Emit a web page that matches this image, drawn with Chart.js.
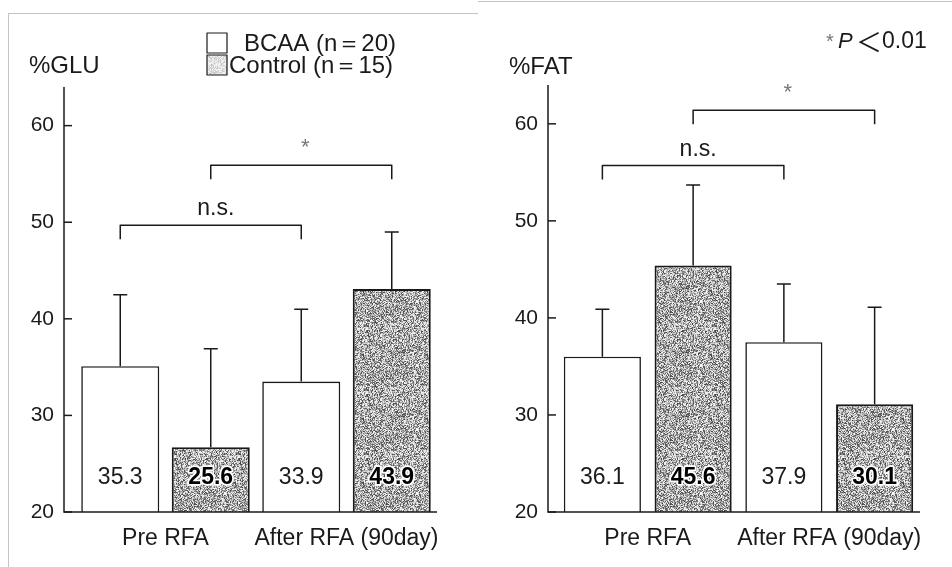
<!DOCTYPE html>
<html>
<head>
<meta charset="utf-8">
<script src="https://cdn.jsdelivr.net/npm/chart.js@4"></script>
<style>
body { margin: 0; background: #fff; }
#wrap { position: relative; width: 952px; height: 567px; overflow: hidden; }
canvas { position: absolute; top: 0; }
#c1 { left: 0; }
#c2 { left: 476px; }
.frame { position: absolute; background: #c4c4c4; }
</style>
</head>
<body>
<div id="wrap">
<div class="frame" style="left:8px; top:13px; width:1px; height:560px;"></div>
<div class="frame" style="left:8px; top:13px; width:470px; height:1px;"></div>
<div class="frame" style="left:478px; top:1px; width:474px; height:1px;"></div>
<canvas id="c1" width="476" height="567"></canvas>
<canvas id="c2" width="476" height="567"></canvas>
</div>
<script>
const categories = ["Pre RFA", "After RFA (90day)"];
const seriesNames = ["BCAA (n＝20)", "Control (n＝15)"];
const yTicks = [20, 30, 40, 50, 60];

// %GLU panel
const gluBcaa = [35.1, 33.5];
const gluControl = [26.7, 43.1];
const gluBcaaTop = [42.5, 41.0];
const gluControlTop = [36.9, 49.0];
const gluBcaaText = ["35.3", "33.9"];
const gluControlText = ["25.6", "43.9"];

// %FAT panel
const fatBcaa = [36.0, 37.5];
const fatControl = [45.4, 31.1];
const fatBcaaTop = [40.9, 43.5];
const fatControlTop = [53.7, 41.1];
const fatBcaaText = ["36.1", "37.9"];
const fatControlText = ["45.6", "30.1"];

// brackets: [series, from category, to category, level, label]
const gluBrackets = [[0, 0, 1, 49.7, "n.s."], [1, 0, 1, 55.9, "*"]];
const fatBrackets = [[0, 0, 1, 55.7, "n.s."], [1, 0, 1, 61.4, "*"]];

const FONT = "'Liberation Sans', Arial, sans-serif";
const INK = "#1a1a1a";

// grey stipple texture for the control bars
function stipple(depth, seed) {
    const c = document.createElement("canvas");
    c.width = 64; c.height = 64;
    const g = c.getContext("2d");
    const img = g.createImageData(64, 64);
    let s = seed;
    for (let i = 0; i < 64 * 64; i++) {
        s = (s * 1103515245 + 12345) & 0x7fffffff;
        const r = ((s >> 8) % 1000) / 1000;
        const v = Math.round(250 - depth * Math.pow(r, 1.3));
        img.data[i * 4] = img.data[i * 4 + 1] = img.data[i * 4 + 2] = v;
        img.data[i * 4 + 3] = 255;
    }
    g.putImageData(img, 0, 0);
    return g.createPattern(c, "repeat");
}
const darkFill = stipple(185, 12345);
const lightFill = stipple(60, 777);

const decor = {
    id: "decor",
    afterDraw(chart, args, o) {
        const ctx = chart.ctx;
        const y = chart.scales.y;
        const area = chart.chartArea;
        const ax = area.left - o.gap;
        ctx.save();
        ctx.strokeStyle = INK;
        ctx.fillStyle = INK;

        // axis lines and inner tick marks
        ctx.lineWidth = 1.5;
        ctx.beginPath();
        ctx.moveTo(ax, area.top);
        ctx.lineTo(ax, area.bottom);
        ctx.lineTo(area.right, area.bottom);
        ctx.stroke();
        yTicks.forEach(v => {
            const py = y.getPixelForValue(v);
            ctx.beginPath();
            ctx.moveTo(ax, py);
            ctx.lineTo(ax + 8, py);
            ctx.stroke();
        });

        // error bars and value labels
        chart.data.datasets.forEach((ds, d) => {
            chart.getDatasetMeta(d).data.forEach((bar, i) => {
                const top = y.getPixelForValue(o.tops[d][i]);
                ctx.lineWidth = 1.5;
                ctx.strokeStyle = INK;
                ctx.beginPath();
                ctx.moveTo(bar.x, bar.y);
                ctx.lineTo(bar.x, top);
                ctx.moveTo(bar.x - 7, top);
                ctx.lineTo(bar.x + 7, top);
                ctx.stroke();

                ctx.textAlign = "center";
                ctx.textBaseline = "middle";
                const ty = area.bottom - 34;
                if (d === 1) {
                    ctx.font = "bold 23px " + FONT;
                    ctx.lineWidth = 3.5;
                    ctx.strokeStyle = "#fff";
                    ctx.lineJoin = "round";
                    ctx.strokeText(o.texts[d][i], bar.x, ty);
                    ctx.fillStyle = "#000";
                    ctx.fillText(o.texts[d][i], bar.x, ty);
                } else {
                    ctx.font = "23px " + FONT;
                    ctx.fillStyle = INK;
                    ctx.fillText(o.texts[d][i], bar.x, ty);
                }
            });
        });

        // significance brackets
        ctx.strokeStyle = INK;
        ctx.lineWidth = 1.5;
        o.brackets.forEach(b => {
            const meta = chart.getDatasetMeta(b[0]);
            const x1 = meta.data[b[1]].x;
            const x2 = meta.data[b[2]].x;
            const py = y.getPixelForValue(b[3]);
            ctx.beginPath();
            ctx.moveTo(x1, py + 14);
            ctx.lineTo(x1, py);
            ctx.lineTo(x2, py);
            ctx.lineTo(x2, py + 14);
            ctx.stroke();
            ctx.textAlign = "center";
            ctx.textBaseline = "middle";
            if (b[4] === "*") {
                ctx.font = "22px " + FONT;
                ctx.fillStyle = "#777";
                ctx.fillText("*", (x1 + x2) / 2 + 4, py - 17);
            } else {
                ctx.font = "23px " + FONT;
                ctx.fillStyle = INK;
                ctx.fillText(b[4], (x1 + x2) / 2 + 5, py - 16);
            }
        });

        // axis title
        ctx.fillStyle = INK;
        ctx.font = "24px " + FONT;
        ctx.textAlign = "left";
        ctx.textBaseline = "middle";
        ctx.fillText(o.title, o.titleX, o.titleY);

        // legend
        if (o.legend) {
            chart.data.datasets.forEach((ds, d) => {
                const ly = 33 + d * 22;
                ctx.fillStyle = d === 0 ? "#fff" : lightFill;
                ctx.fillRect(207, ly, 20, 20);
                ctx.lineWidth = 1.2;
                ctx.strokeStyle = INK;
                ctx.strokeRect(207, ly, 20, 20);
                ctx.fillStyle = INK;
                ctx.font = "24px " + FONT;
                ctx.fillText(ds.label, d === 0 ? 244 : 229, ly + 11);
            });
        }

        // p-value note
        if (o.note) {
            ctx.textBaseline = "middle";
            ctx.font = "20px " + FONT;
            ctx.fillStyle = "#777";
            ctx.fillText("*", 350, 42);
            ctx.fillStyle = INK;
            ctx.font = "italic 22px " + FONT;
            ctx.fillText("P", 362, 42);
            ctx.font = "26px 'Noto Sans CJK JP', " + FONT;
            ctx.fillText("＜", 380, 42);
            ctx.font = "23px " + FONT;
            ctx.fillText("0.01", 406, 42);
        }
        ctx.restore();
    }
};

function makeChart(id, bcaa, control, tops, texts, brackets, extra) {
    return new Chart(document.getElementById(id), {
        type: "bar",
        data: {
            labels: categories,
            datasets: [
                { label: seriesNames[0], data: bcaa, backgroundColor: "#fff", borderColor: INK, borderWidth: 1.6 },
                { label: seriesNames[1], data: control, backgroundColor: darkFill, borderColor: INK, borderWidth: 2 }
            ]
        },
        options: {
            responsive: false,
            animation: false,
            categoryPercentage: 1,
            barPercentage: extra.barPct,
            layout: { padding: { left: 0, right: extra.padRight, top: extra.padTop, bottom: 0 } },
            plugins: {
                legend: { display: false },
                tooltip: { enabled: false },
                decor: Object.assign({ tops: tops, texts: texts, brackets: brackets }, extra)
            },
            scales: {
                x: {
                    grid: { display: false, drawTicks: false },
                    border: { display: false },
                    ticks: { color: INK, font: { family: FONT, size: 23 }, padding: 13, maxRotation: 0, autoSkip: false },
                    afterFit: s => { s.height = 55; }
                },
                y: {
                    min: 20,
                    max: 64,
                    grid: { display: false, drawTicks: false },
                    border: { display: false },
                    ticks: { color: INK, font: { family: FONT, size: 21 }, padding: extra.tickPad },
                    afterBuildTicks: s => { s.ticks = yTicks.map(v => ({ value: v })); },
                    afterFit: s => { s.width = extra.axisW; }
                }
            }
        },
        plugins: [decor]
    });
}

makeChart("c1", gluBcaa, gluControl, [gluBcaaTop, gluControlTop], [gluBcaaText, gluControlText], gluBrackets,
    { padRight: 39, padTop: 87, axisW: 75, gap: 11, tickPad: 21, barPct: 0.862, title: "%GLU", titleX: 29, titleY: 66, legend: true, note: false });
makeChart("c2", fatBcaa, fatControl, [fatBcaaTop, fatControlTop], [fatBcaaText, fatControlText], fatBrackets,
    { padRight: 32, padTop: 85, axisW: 81, gap: 9, tickPad: 19, barPct: 0.85, title: "%FAT", titleX: 33, titleY: 67, legend: false, note: true });
</script>
</body>
</html>
